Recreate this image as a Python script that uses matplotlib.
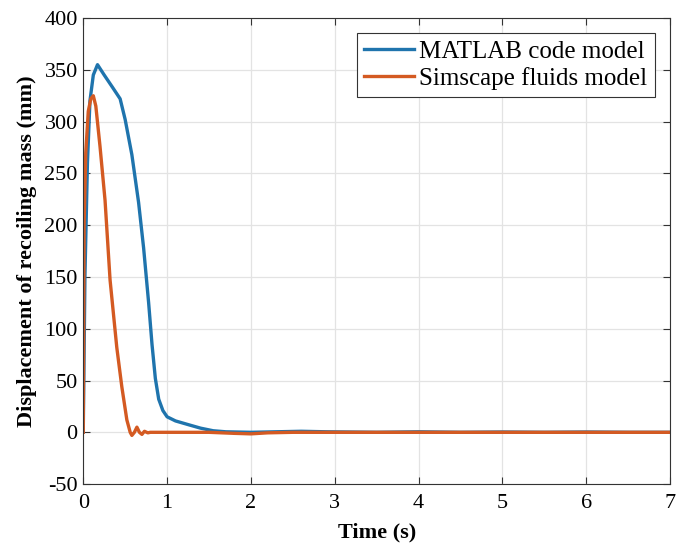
import matplotlib
matplotlib.use("Agg")
import matplotlib.pyplot as plt

# values
t_matlab = [0, 0.02, 0.05, 0.08, 0.12, 0.17, 0.25, 0.35, 0.44, 0.50, 0.58, 0.66,
            0.72, 0.78, 0.82, 0.86, 0.90, 0.95, 1.0, 1.1, 1.27, 1.4, 1.55, 1.7,
            2.0, 2.3, 2.6, 2.9, 3.5, 4.0, 4.5, 5.0, 5.5, 6.0, 6.5, 7.0]
x_matlab = [0, 150, 260, 320, 345, 355, 345, 333, 322, 302, 268, 222,
            178, 125, 85, 52, 32, 21, 15, 11, 7, 4, 1.5, 0.5,
            0, 0.5, 1, 0.5, 0, 0.5, 0, 0.3, 0, 0.3, 0, 0]

t_simscape = [0, 0.01, 0.03, 0.06, 0.09, 0.12, 0.15, 0.20, 0.26, 0.32, 0.40, 0.46,
              0.52, 0.56, 0.58, 0.61, 0.64, 0.67, 0.70, 0.73, 0.77, 0.80, 1.0,
              1.5, 1.8, 2.0, 2.2, 2.5, 3.0, 7.0]
x_simscape = [0, 200, 270, 310, 322, 325, 315, 276, 224, 147, 82, 44,
              12, 0, -3, 0, 5, 0, -2, 1, -0.5, 0, 0,
              0, -1, -1.5, -0.5, 0, 0, 0]

x_ticks = list(range(0, 8))
y_ticks = list(range(-50, 401, 50))

plt.rcParams["font.family"] = ["Liberation Serif", "DejaVu Serif"]
plt.rcParams["axes.unicode_minus"] = False

fig = plt.figure(figsize=(6.88, 5.47), dpi=100)
ax = fig.add_axes([0.121, 0.115, 0.853, 0.852])

ax.plot(t_matlab, x_matlab, color="#1f74ad", lw=2.4, label="MATLAB code model")
ax.plot(t_simscape, x_simscape, color="#d45a22", lw=2.4, label="Simscape fluids model")

ax.set_xlim(0, 7)
ax.set_ylim(-50, 400)
ax.set_xticks(x_ticks)
ax.set_yticks(y_ticks)
ax.tick_params(direction="in", top=True, right=True, labelsize=16, length=5,
               color="#333333")
ax.tick_params(axis="x", pad=7)
ax.tick_params(axis="y", pad=4)
ax.grid(True, color="#e3e3e3", lw=0.9)
ax.set_axisbelow(True)
for sp in ax.spines.values():
    sp.set_color("#333333")
    sp.set_linewidth(0.8)

ax.set_xlabel("Time (s)", fontsize=16, fontweight="bold", labelpad=7)
ax.set_ylabel("Displacement of recoiling mass (mm)", fontsize=16,
              fontweight="bold", labelpad=5)

leg = ax.legend(loc="upper right", fontsize=18, fancybox=False, framealpha=1,
                edgecolor="#333333", handlelength=2.0, handletextpad=0.2,
                borderpad=0.3, labelspacing=0.15, borderaxespad=0.6)
leg.get_frame().set_linewidth(0.8)

fig.savefig("out.png", dpi=100)
